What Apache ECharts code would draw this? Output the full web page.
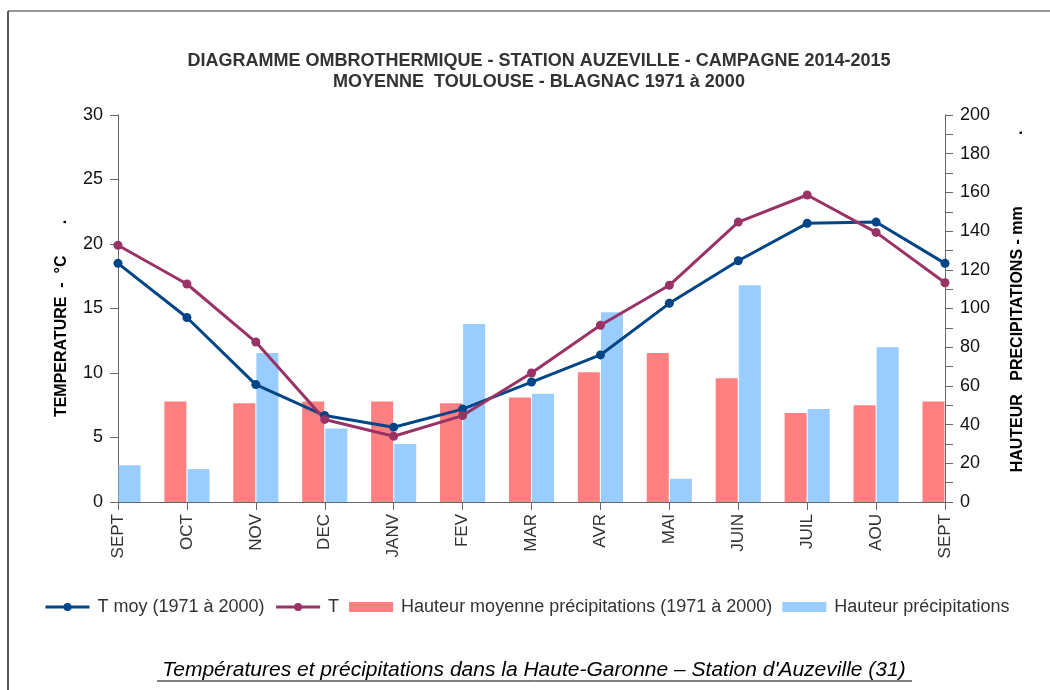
<!DOCTYPE html>
<html>
<head>
<meta charset="utf-8">
<script src="https://cdn.jsdelivr.net/npm/echarts@6/dist/echarts.min.js"></script>
<style>
  html, body { margin: 0; padding: 0; background: #fff; }
  #main { width: 1050px; height: 690px; }
</style>
</head>
<body>
<div id="main"></div>
<script>
// mois de la campagne (sept -> sept)
var months = ['SEPT', 'OCT', 'NOV', 'DEC', 'JANV', 'FEV', 'MAR', 'AVR', 'MAI', 'JUIN', 'JUIL', 'AOU', 'SEPT'];

// températures (°C)
var tMoy = [18.5, 14.3, 9.1, 6.7, 5.8, 7.2, 9.3, 11.4, 15.4, 18.7, 21.6, 21.7, 18.5];
var tCampagne = [19.9, 16.9, 12.4, 6.4, 5.1, 6.7, 10.0, 13.7, 16.8, 21.7, 23.8, 20.9, 17.0];

// précipitations (mm)
var pluieMoy = [52, 52, 51, 52, 52, 51, 54, 67, 77, 64, 46, 50, 52];
var pluieCampagne = [19, 17, 77, 38, 30, 92, 56, 98, 12, 112, 48, 80, 28];

var tempTicks = [0, 30, 5];
var pluieTicks = [0, 200, 20];

// les barres centrées sur les graduations de bord tombent hors du graphique
// (echarts ne les coupe pas quand boundaryGap = false) -> on les masque
function horsCadre(arr, idx) {
  return arr.map(function (v, i) { return i === idx ? null : v; });
}

var chart = echarts.init(document.getElementById('main'));

var axisColor = '#666';
var font = 'Liberation Sans, Arial, sans-serif';

var option = {
  backgroundColor: '#fff',
  animation: false,
  textStyle: { fontFamily: font },
  title: {
    text: 'DIAGRAMME OMBROTHERMIQUE - STATION AUZEVILLE - CAMPAGNE 2014-2015\nMOYENNE  TOULOUSE - BLAGNAC 1971 à 2000',
    left: 534,
    top: 46,
    textAlign: 'center',
    textStyle: {
      fontSize: 18,
      fontWeight: 'bold',
      color: '#333',
      lineHeight: 21,
      fontFamily: font
    }
  },
  legend: {
    left: 44,
    top: 598,
    padding: 0,
    itemWidth: 44,
    itemHeight: 10,
    itemGap: 10,
    textStyle: { fontSize: 18, color: '#333', padding: [0, 0, 0, 3] },
    data: [
      { name: 'T moy (1971 à 2000)', lineStyle: { width: 3 } },
      { name: 'T', lineStyle: { width: 3 } },
      { name: 'Hauteur moyenne précipitations (1971 à 2000)', icon: 'rect' },
      { name: 'Hauteur précipitations', icon: 'rect' }
    ]
  },
  grid: { left: 118, right: 105, top: 115, bottom: 188 },
  xAxis: {
    type: 'category',
    data: months,
    boundaryGap: false,
    axisLine: { lineStyle: { color: axisColor, width: 1 } },
    axisTick: { show: true, length: 8, alignWithLabel: true, lineStyle: { color: axisColor } },
    axisLabel: { rotate: 90, fontSize: 17, color: '#333', margin: 12, interval: 0 },
    splitLine: { show: false }
  },
  yAxis: [
    {
      type: 'value',
      min: tempTicks[0],
      max: tempTicks[1],
      interval: tempTicks[2],
      name: 'TEMPERATURE  -  °C       .',
      nameLocation: 'middle',
      nameGap: 48,
      nameTextStyle: { fontSize: 16, fontWeight: 'bold', color: '#000', padding: [0, 20, 0, 0] },
      axisLine: { show: true, lineStyle: { color: axisColor } },
      axisTick: { show: true, length: 8, lineStyle: { color: axisColor } },
      axisLabel: { fontSize: 18, color: '#111', margin: 15 },
      splitLine: { show: false }
    },
    {
      type: 'value',
      min: pluieTicks[0],
      max: pluieTicks[1],
      interval: pluieTicks[2],
      position: 'right',
      name: 'HAUTEUR   PRECIPITATIONS - mm                .',
      nameLocation: 'middle',
      nameGap: 65,
      nameTextStyle: { fontSize: 16, fontWeight: 'bold', color: '#000', padding: [0, 0, 0, 14] },
      axisLine: { show: true, lineStyle: { color: axisColor } },
      axisTick: { show: true, length: 8, lineStyle: { color: axisColor } },
      minorTick: { show: true, splitNumber: 2, length: 8, lineStyle: { color: axisColor } },
      axisLabel: { fontSize: 18, color: '#111', margin: 15 },
      splitLine: { show: false }
    }
  ],
  series: [
    {
      name: 'T moy (1971 à 2000)',
      type: 'line',
      data: tMoy,
      yAxisIndex: 0,
      symbol: 'circle',
      symbolSize: 9,
      itemStyle: { color: '#004586' },
      lineStyle: { color: '#004586', width: 3 }
    },
    {
      name: 'T',
      type: 'line',
      data: tCampagne,
      yAxisIndex: 0,
      symbol: 'circle',
      symbolSize: 9,
      itemStyle: { color: '#993366' },
      lineStyle: { color: '#993366', width: 3 }
    },
    {
      name: 'Hauteur moyenne précipitations (1971 à 2000)',
      type: 'bar',
      data: horsCadre(pluieMoy, 0),
      yAxisIndex: 1,
      barWidth: 22,
      barGap: '5%',
      itemStyle: { color: '#ff8080' }
    },
    {
      name: 'Hauteur précipitations',
      type: 'bar',
      data: horsCadre(pluieCampagne, pluieCampagne.length - 1),
      yAxisIndex: 1,
      barWidth: 22,
      barGap: '5%',
      itemStyle: { color: '#99ccff' }
    }
  ],
  graphic: [
    // cadre
    { type: 'line', shape: { x1: 8, y1: 11, x2: 1050, y2: 11 }, style: { stroke: '#777', lineWidth: 1.5 } },
    { type: 'line', shape: { x1: 8, y1: 11, x2: 8, y2: 690 }, style: { stroke: '#222', lineWidth: 1.5 } },
    // titre sous le graphique
    {
      type: 'text',
      x: 534,
      y: 670,
      style: {
        text: 'Températures et précipitations dans la Haute-Garonne – Station d\'Auzeville (31)',
        font: 'italic 21px ' + font,
        fill: '#000',
        align: 'center',
        verticalAlign: 'middle'
      }
    },
    { type: 'line', shape: { x1: 157, y1: 681, x2: 912, y2: 681 }, style: { stroke: '#000', lineWidth: 1 } }
  ]
};

chart.setOption(option);
</script>
</body>
</html>
